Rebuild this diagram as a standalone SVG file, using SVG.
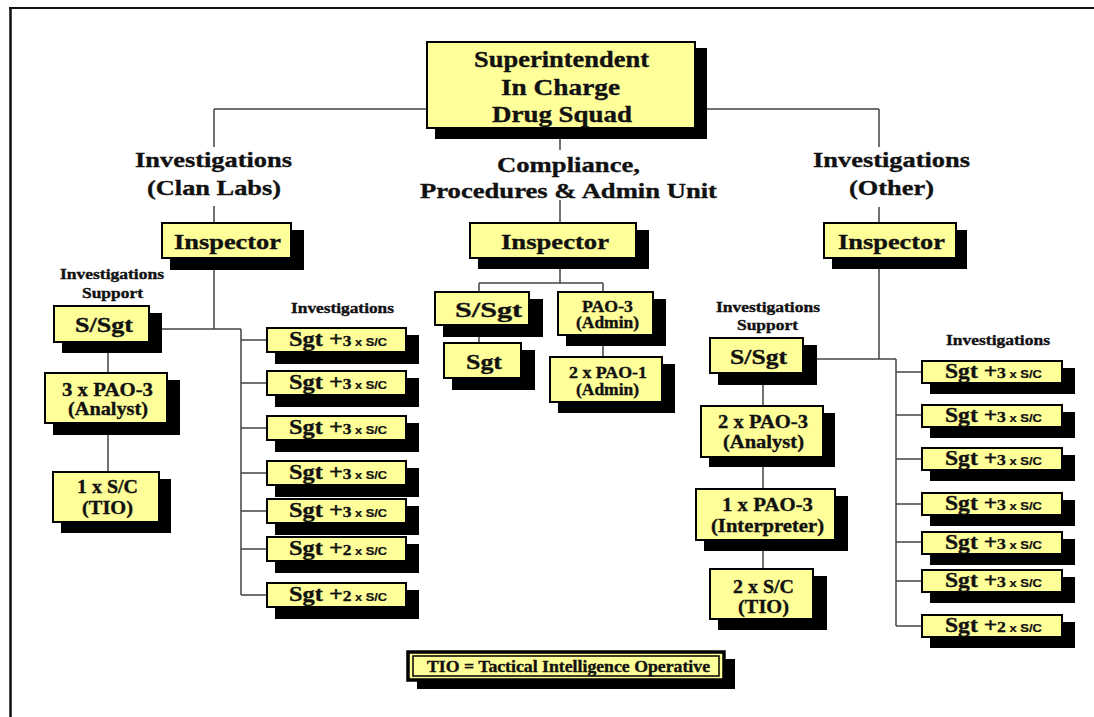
<svg xmlns="http://www.w3.org/2000/svg" width="1094" height="717" viewBox="0 0 1094 717">
<style>
.box{fill:#ffff99;stroke:#000;stroke-width:2}
.sh{fill:#000}
.ln{stroke:#444;stroke-width:1.5;fill:none}
.t{font-family:"Liberation Serif","Times New Roman","DejaVu Serif",serif;font-weight:bold;fill:#111;stroke:#111;stroke-width:0.35}
.s{font-family:"Liberation Sans",Arial,sans-serif;font-weight:bold;stroke-width:0.2}
</style>
<rect x="0" y="0" width="1094" height="717" fill="#fff"/>
<g id="frame">
<line x1="10.5" y1="7" x2="10.5" y2="717" stroke="#111" stroke-width="2.5"/>
<line x1="9" y1="8" x2="1094" y2="8" stroke="#111" stroke-width="2"/>
</g>
<g id="connectors" class="ln">
<path d="M214 109H879M214 109V147M879 109V147M560 128V150M214 206V223M560 200V223M879 207V223"/>
<path d="M214 258V329M149 329H241M241 329V595M241 340H267M241 383H267M241 428H267M241 473H267M241 511H267M241 549H267M241 595H267"/>
<path d="M108 342V373M108 423V472"/>
<path d="M560 258V283M479 283H603M479 283V292M603 283V292M479 325V343M603 335V357"/>
<path d="M879 258V359M803 359H896M896 359V626M896 372H922M896 415H922M896 459H922M896 504H922M896 542H922M896 581H922M896 626H922"/>
<path d="M763 373V406M763 457V489M763 540V569"/>
</g>
<g id="labels" class="t" font-family="Liberation Serif, serif">
<text x="135" y="167" font-size="22" textLength="157" lengthAdjust="spacingAndGlyphs">Investigations</text>
<text x="147" y="195" font-size="22" textLength="134" lengthAdjust="spacingAndGlyphs">(Clan Labs)</text>
<text x="497" y="172" font-size="22" textLength="143" lengthAdjust="spacingAndGlyphs">Compliance,</text>
<text x="420" y="198" font-size="22" textLength="297" lengthAdjust="spacingAndGlyphs">Procedures &amp; Admin Unit</text>
<text x="813" y="167" font-size="22" textLength="157" lengthAdjust="spacingAndGlyphs">Investigations</text>
<text x="849" y="195" font-size="22" textLength="85" lengthAdjust="spacingAndGlyphs">(Other)</text>
<text x="60" y="279" font-size="15" textLength="104" lengthAdjust="spacingAndGlyphs">Investigations</text>
<text x="82" y="298" font-size="15" textLength="61" lengthAdjust="spacingAndGlyphs">Support</text>
<text x="291" y="313" font-size="15" textLength="103" lengthAdjust="spacingAndGlyphs">Investigations</text>
<text x="716" y="312" font-size="15" textLength="104" lengthAdjust="spacingAndGlyphs">Investigations</text>
<text x="737" y="330" font-size="15" textLength="61" lengthAdjust="spacingAndGlyphs">Support</text>
<text x="946" y="345" font-size="15" textLength="104" lengthAdjust="spacingAndGlyphs">Investigations</text>
</g>
<g id="superintendent">
<rect class="sh" x="435" y="48" width="272" height="91"/>
<rect class="box" x="427" y="42" width="268" height="86"/>
<text class="t" x="474" y="67" font-size="23" textLength="175" lengthAdjust="spacingAndGlyphs">Superintendent</text>
<text class="t" x="501" y="95" font-size="23" textLength="119" lengthAdjust="spacingAndGlyphs">In Charge</text>
<text class="t" x="492" y="122" font-size="23" textLength="140" lengthAdjust="spacingAndGlyphs">Drug Squad</text>
</g>
<g id="inspector-left">
<rect class="sh" x="170" y="230" width="134" height="40"/>
<rect class="box" x="162" y="223" width="129" height="35"/>
<text class="t" x="174" y="249" font-size="21" textLength="107" lengthAdjust="spacingAndGlyphs">Inspector</text>
</g>
<g id="inspector-mid">
<rect class="sh" x="478" y="230" width="171" height="39"/>
<rect class="box" x="470" y="223" width="166" height="35"/>
<text class="t" x="501" y="249" font-size="21" textLength="108" lengthAdjust="spacingAndGlyphs">Inspector</text>
</g>
<g id="inspector-right">
<rect class="sh" x="832" y="230" width="135" height="39"/>
<rect class="box" x="824" y="223" width="132" height="35"/>
<text class="t" x="838" y="249" font-size="21" textLength="107" lengthAdjust="spacingAndGlyphs">Inspector</text>
</g>
<g id="ssgt-left">
<rect class="sh" x="62" y="313" width="100" height="40"/>
<rect class="box" x="54" y="306" width="95" height="36"/>
<text class="t" x="75" y="332" font-size="21" textLength="58" lengthAdjust="spacingAndGlyphs">S/Sgt</text>
</g>
<g id="analyst-left">
<rect class="sh" x="53" y="380" width="127" height="55"/>
<rect class="box" x="45" y="373" width="122" height="50"/>
<text class="t" x="62" y="396" font-size="19" textLength="91" lengthAdjust="spacingAndGlyphs">3 x PAO-3</text>
<text class="t" x="68" y="415" font-size="19" textLength="80" lengthAdjust="spacingAndGlyphs">(Analyst)</text>
</g>
<g id="tio-left">
<rect class="sh" x="61" y="479" width="110" height="54"/>
<rect class="box" x="53" y="472" width="106" height="50"/>
<text class="t" x="77" y="493" font-size="19" textLength="61" lengthAdjust="spacingAndGlyphs">1 x S/C</text>
<text class="t" x="82" y="514" font-size="19" textLength="51" lengthAdjust="spacingAndGlyphs">(TIO)</text>
</g>
<g id="sgt-left-1"><rect class="sh" x="275" y="335" width="144" height="29"/><rect class="box" x="267" y="328" width="139" height="24"/><text class="t" x="289" y="346" font-size="21" textLength="98" lengthAdjust="spacingAndGlyphs">Sgt +<tspan font-size="15">3</tspan><tspan class="s" font-size="11"> x S/C</tspan></text></g>
<g id="sgt-left-2"><rect class="sh" x="275" y="378" width="144" height="29"/><rect class="box" x="267" y="371" width="139" height="24"/><text class="t" x="289" y="389" font-size="21" textLength="98" lengthAdjust="spacingAndGlyphs">Sgt +<tspan font-size="15">3</tspan><tspan class="s" font-size="11"> x S/C</tspan></text></g>
<g id="sgt-left-3"><rect class="sh" x="275" y="423" width="144" height="29"/><rect class="box" x="267" y="416" width="139" height="24"/><text class="t" x="289" y="434" font-size="21" textLength="98" lengthAdjust="spacingAndGlyphs">Sgt +<tspan font-size="15">3</tspan><tspan class="s" font-size="11"> x S/C</tspan></text></g>
<g id="sgt-left-4"><rect class="sh" x="275" y="468" width="144" height="29"/><rect class="box" x="267" y="461" width="139" height="24"/><text class="t" x="289" y="479" font-size="21" textLength="98" lengthAdjust="spacingAndGlyphs">Sgt +<tspan font-size="15">3</tspan><tspan class="s" font-size="11"> x S/C</tspan></text></g>
<g id="sgt-left-5"><rect class="sh" x="275" y="506" width="144" height="29"/><rect class="box" x="267" y="499" width="139" height="24"/><text class="t" x="289" y="517" font-size="21" textLength="98" lengthAdjust="spacingAndGlyphs">Sgt +<tspan font-size="15">3</tspan><tspan class="s" font-size="11"> x S/C</tspan></text></g>
<g id="sgt-left-6"><rect class="sh" x="275" y="544" width="144" height="29"/><rect class="box" x="267" y="537" width="139" height="24"/><text class="t" x="289" y="555" font-size="21" textLength="98" lengthAdjust="spacingAndGlyphs">Sgt +<tspan font-size="15">2</tspan><tspan class="s" font-size="11"> x S/C</tspan></text></g>
<g id="sgt-left-7"><rect class="sh" x="275" y="590" width="144" height="29"/><rect class="box" x="267" y="583" width="139" height="24"/><text class="t" x="289" y="601" font-size="21" textLength="98" lengthAdjust="spacingAndGlyphs">Sgt +<tspan font-size="15">2</tspan><tspan class="s" font-size="11"> x S/C</tspan></text></g>
<g id="ssgt-mid">
<rect class="sh" x="443" y="299" width="100" height="38"/>
<rect class="box" x="435" y="292" width="94" height="33"/>
<text class="t" x="455" y="317" font-size="21" textLength="67" lengthAdjust="spacingAndGlyphs">S/Sgt</text>
</g>
<g id="sgt-mid">
<rect class="sh" x="452" y="350" width="83" height="40"/>
<rect class="box" x="444" y="343" width="77" height="35"/>
<text class="t" x="466" y="369" font-size="21" textLength="36" lengthAdjust="spacingAndGlyphs">Sgt</text>
</g>
<g id="pao3-admin">
<rect class="sh" x="566" y="299" width="100" height="47"/>
<rect class="box" x="558" y="292" width="95" height="43"/>
<text class="t" x="582" y="312" font-size="16" textLength="51" lengthAdjust="spacingAndGlyphs">PAO-3</text>
<text class="t" x="576" y="328" font-size="16" textLength="63" lengthAdjust="spacingAndGlyphs">(Admin)</text>
</g>
<g id="pao1-admin">
<rect class="sh" x="558" y="364" width="117" height="49"/>
<rect class="box" x="550" y="357" width="112" height="45"/>
<text class="t" x="569" y="378" font-size="16" textLength="78" lengthAdjust="spacingAndGlyphs">2 x PAO-1</text>
<text class="t" x="576" y="395" font-size="16" textLength="63" lengthAdjust="spacingAndGlyphs">(Admin)</text>
</g>
<g id="ssgt-right">
<rect class="sh" x="718" y="345" width="99" height="40"/>
<rect class="box" x="710" y="338" width="93" height="35"/>
<text class="t" x="730" y="364" font-size="21" textLength="57" lengthAdjust="spacingAndGlyphs">S/Sgt</text>
</g>
<g id="analyst-right">
<rect class="sh" x="709" y="413" width="126" height="54"/>
<rect class="box" x="701" y="406" width="122" height="51"/>
<text class="t" x="718" y="428" font-size="19" textLength="90" lengthAdjust="spacingAndGlyphs">2 x PAO-3</text>
<text class="t" x="723" y="448" font-size="19" textLength="81" lengthAdjust="spacingAndGlyphs">(Analyst)</text>
</g>
<g id="interpreter-right">
<rect class="sh" x="704" y="496" width="144" height="55"/>
<rect class="box" x="696" y="489" width="139" height="51"/>
<text class="t" x="722" y="511" font-size="19" textLength="91" lengthAdjust="spacingAndGlyphs">1 x PAO-3</text>
<text class="t" x="711" y="532" font-size="19" textLength="113" lengthAdjust="spacingAndGlyphs">(Interpreter)</text>
</g>
<g id="tio-right">
<rect class="sh" x="718" y="576" width="109" height="54"/>
<rect class="box" x="710" y="569" width="103" height="50"/>
<text class="t" x="733" y="593" font-size="19" textLength="61" lengthAdjust="spacingAndGlyphs">2 x S/C</text>
<text class="t" x="738" y="613" font-size="19" textLength="51" lengthAdjust="spacingAndGlyphs">(TIO)</text>
</g>
<g id="sgt-right-1"><rect class="sh" x="930" y="368" width="145" height="26"/><rect class="box" x="922" y="361" width="140" height="22"/><text class="t" x="945" y="378" font-size="20" textLength="97" lengthAdjust="spacingAndGlyphs">Sgt +<tspan font-size="15">3</tspan><tspan class="s" font-size="11"> x S/C</tspan></text></g>
<g id="sgt-right-2"><rect class="sh" x="930" y="412" width="145" height="26"/><rect class="box" x="922" y="405" width="140" height="22"/><text class="t" x="945" y="422" font-size="20" textLength="97" lengthAdjust="spacingAndGlyphs">Sgt +<tspan font-size="15">3</tspan><tspan class="s" font-size="11"> x S/C</tspan></text></g>
<g id="sgt-right-3"><rect class="sh" x="930" y="455" width="145" height="26"/><rect class="box" x="922" y="448" width="140" height="22"/><text class="t" x="945" y="465" font-size="20" textLength="97" lengthAdjust="spacingAndGlyphs">Sgt +<tspan font-size="15">3</tspan><tspan class="s" font-size="11"> x S/C</tspan></text></g>
<g id="sgt-right-4"><rect class="sh" x="930" y="500" width="145" height="26"/><rect class="box" x="922" y="493" width="140" height="22"/><text class="t" x="945" y="510" font-size="20" textLength="97" lengthAdjust="spacingAndGlyphs">Sgt +<tspan font-size="15">3</tspan><tspan class="s" font-size="11"> x S/C</tspan></text></g>
<g id="sgt-right-5"><rect class="sh" x="930" y="539" width="145" height="26"/><rect class="box" x="922" y="532" width="140" height="22"/><text class="t" x="945" y="549" font-size="20" textLength="97" lengthAdjust="spacingAndGlyphs">Sgt +<tspan font-size="15">3</tspan><tspan class="s" font-size="11"> x S/C</tspan></text></g>
<g id="sgt-right-6"><rect class="sh" x="930" y="577" width="145" height="26"/><rect class="box" x="922" y="570" width="140" height="22"/><text class="t" x="945" y="587" font-size="20" textLength="97" lengthAdjust="spacingAndGlyphs">Sgt +<tspan font-size="15">3</tspan><tspan class="s" font-size="11"> x S/C</tspan></text></g>
<g id="sgt-right-7"><rect class="sh" x="930" y="622" width="145" height="26"/><rect class="box" x="922" y="615" width="140" height="22"/><text class="t" x="945" y="632" font-size="20" textLength="97" lengthAdjust="spacingAndGlyphs">Sgt +<tspan font-size="15">2</tspan><tspan class="s" font-size="11"> x S/C</tspan></text></g>
<g id="legend">
<rect class="sh" x="417" y="659" width="318" height="30"/>
<rect x="408" y="652" width="316" height="28" fill="#ffff99" stroke="#000" stroke-width="3.5"/>
<rect x="413" y="656" width="306" height="20" fill="#ffff99" stroke="#000" stroke-width="1.5"/>
<text class="t" x="427" y="672" font-size="16" textLength="283" lengthAdjust="spacingAndGlyphs">TIO = Tactical Intelligence Operative</text>
</g>
</svg>
